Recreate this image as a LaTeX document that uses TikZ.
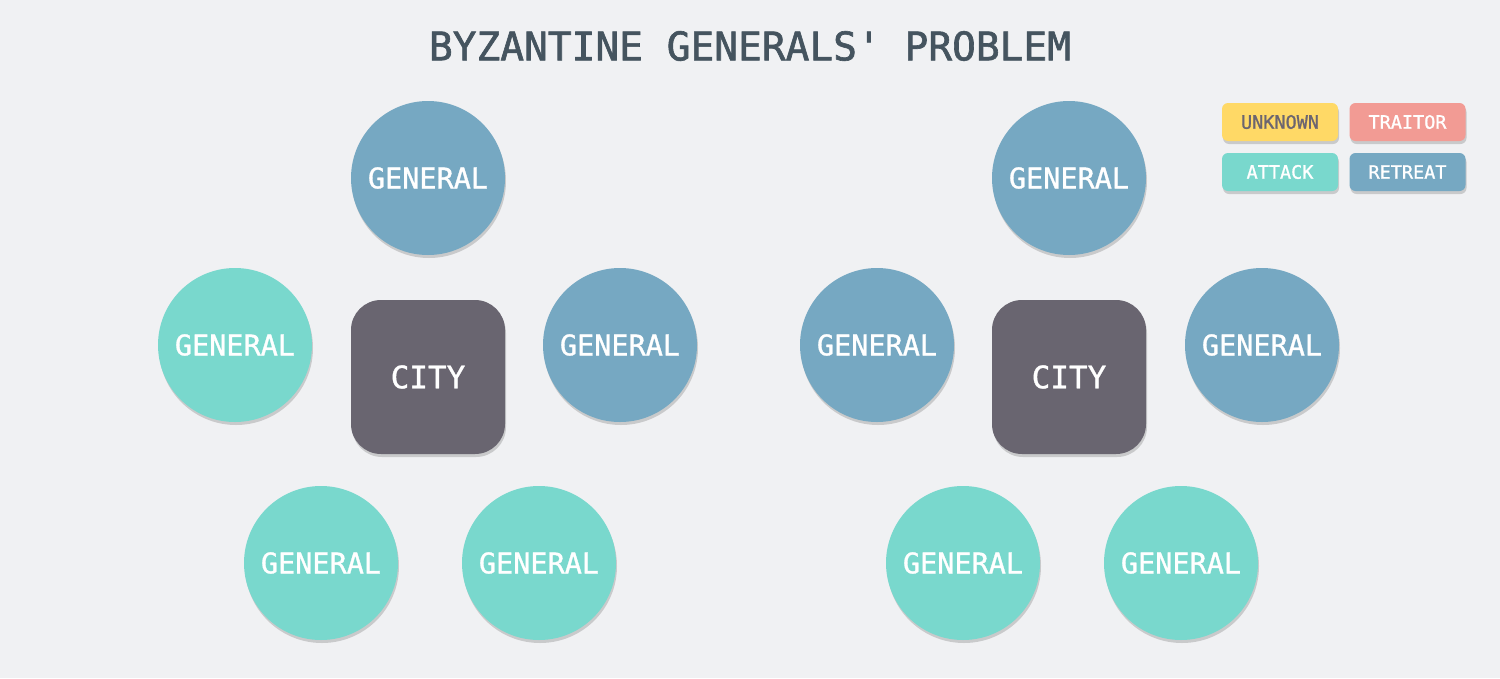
\documentclass[tikz,border=0pt]{standalone}
\usepackage{fontspec}
\setmonofont{DejaVu Sans Mono}
\newfontfamily\monobold[FakeBold=1.6]{DejaVu Sans Mono}
\newfontfamily\monomed[FakeBold=1.1]{DejaVu Sans Mono}
\usetikzlibrary{shadows}
\definecolor{bgc}{HTML}{F0F1F3}
\definecolor{titlec}{HTML}{45545F}
\definecolor{retreatc}{HTML}{76A8C2}
\definecolor{attackc}{HTML}{79D8CD}
\definecolor{cityc}{HTML}{696570}
\definecolor{unknownc}{HTML}{FFD966}
\definecolor{traitorc}{HTML}{F29B94}
\definecolor{unktext}{HTML}{6B6570}
\tikzset{
  shad/.style={drop shadow={shadow xshift=1pt, shadow yshift=-3pt, opacity=0.16, fill=black}},
  general/.style={circle, minimum size=154pt, inner sep=0pt, shad, text=white,
    font=\monomed\fontsize{28.5}{28.5}\selectfont},
  retreat/.style={general, fill=retreatc},
  attack/.style={general, fill=attackc},
  city/.style={rectangle, rounded corners=30pt, minimum size=154pt, inner sep=0pt, shad,
    fill=cityc, text=white, font=\monomed\fontsize{31}{31}\selectfont},
  legend/.style={rectangle, rounded corners=6pt, minimum width=116pt, minimum height=38pt,
    inner sep=0pt, shad, text=white, font=\monomed\fontsize{18.5}{18.5}\selectfont},
}
\begin{document}
\begin{tikzpicture}[x=1pt,y=-1pt]
\fill[bgc] (0,0) rectangle (1500,678);
\useasboundingbox (0,0) rectangle (1500,678);
\node[text=titlec, font=\monobold\fontsize{39.5}{39.5}\selectfont] (title) at (750,46) {BYZANTINE GENERALS' PROBLEM};
% left group
\node[retreat] (lt) at (428,178) {GENERAL};
\node[attack] (ll) at (235,345) {GENERAL};
\node[retreat] (lr) at (620,345) {GENERAL};
\node[attack] (lbl) at (321,563) {GENERAL};
\node[attack] (lbr) at (539,563) {GENERAL};
\node[city] (lcity) at (428,377) {CITY};
% right group
\node[retreat] (rt) at (1069,178) {GENERAL};
\node[retreat] (rl) at (877,345) {GENERAL};
\node[retreat] (rr) at (1262,345) {GENERAL};
\node[attack] (rbl) at (963,563) {GENERAL};
\node[attack] (rbr) at (1181,563) {GENERAL};
\node[city] (rcity) at (1069,377) {CITY};
% legend
\node[legend, fill=unknownc, text=unktext] (unk) at (1280,122) {UNKNOWN};
\node[legend, fill=traitorc] (trt) at (1407.5,122) {TRAITOR};
\node[legend, fill=attackc] (att) at (1280,172) {ATTACK};
\node[legend, fill=retreatc] (ret) at (1407.5,172) {RETREAT};
\end{tikzpicture}
\end{document}
